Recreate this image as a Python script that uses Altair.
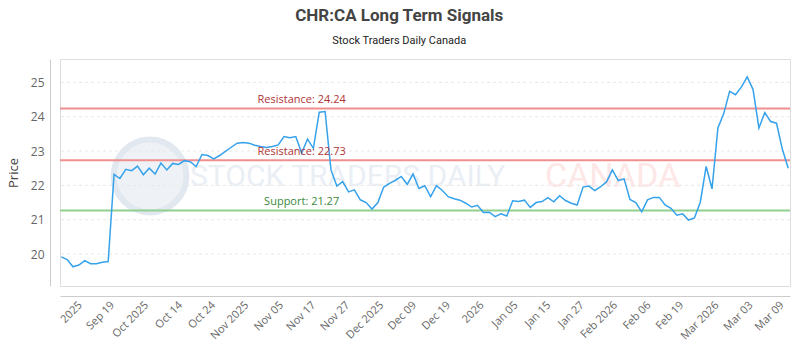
import altair as alt
import pandas as pd

# ---- data ----
prices = [
    19.92, 19.84, 19.63, 19.68, 19.81, 19.72, 19.72, 19.76, 19.78, 22.32,
    22.20, 22.47, 22.43, 22.56, 22.31, 22.50, 22.33, 22.65, 22.45, 22.64,
    22.61, 22.72, 22.69, 22.55, 22.90, 22.87,
    22.77, 22.87, 22.99, 23.11, 23.23, 23.25, 23.23, 23.17, 23.13, 23.10,
    23.13, 23.18, 23.42, 23.39, 23.42, 22.94, 23.35, 23.08, 24.13, 24.15,
    22.45, 21.98, 22.11, 21.81, 21.87,
    21.58, 21.50, 21.31, 21.50, 21.95, 22.06, 22.15, 22.26, 22.03, 22.33,
    21.91, 21.99, 21.67, 21.99, 21.85, 21.67, 21.61, 21.57, 21.48, 21.37,
    21.42, 21.21, 21.22, 21.09, 21.17,
    21.11, 21.55, 21.53, 21.57, 21.36, 21.50, 21.53, 21.64, 21.52, 21.70,
    21.56, 21.48, 21.43, 21.95, 21.98, 21.85, 21.96, 22.10, 22.45, 22.14,
    22.19, 21.59, 21.50, 21.23,
    21.58, 21.65, 21.65, 21.43, 21.33, 21.13, 21.17, 20.99, 21.05, 21.51,
    22.55, 21.90, 23.67, 24.09, 24.74, 24.64, 24.86, 25.16, 24.79, 23.67,
    24.12, 23.86, 23.81, 23.05, 22.50,
]

tick_labels = ["2025", "Sep 19", "Oct 2025", "Oct 14", "Oct 24", "Nov 2025",
               "Nov 05", "Nov 17", "Nov 27", "Dec 2025", "Dec 09", "Dec 19",
               "2026", "Jan 05", "Jan 15", "Jan 27", "Feb 2026", "Feb 06",
               "Feb 19", "Mar 2026", "Mar 03", "Mar 09"]
tick_pos = [2.5, 8.0, 13.8, 19.6, 25.2, 30.9, 36.8, 42.3, 48.1, 53.9, 59.5,
            65.3, 71.0, 76.8, 82.4, 88.1, 93.8, 99.5, 105.1, 111.1, 116.9, 122.2]

y_ticks = [20, 21, 22, 23, 24, 25]

level_names = ["Resistance", "Resistance", "Support"]
level_values = [24.24, 22.73, 21.27]
level_colors = ["#ef8f8f", "#ef8f8f", "#8fd08f"]
text_colors = ["#b03636", "#b03636", "#3a8a3a"]
label_at = 41

df = pd.DataFrame({"i": list(range(len(prices))), "price": prices})
levels = pd.DataFrame({
    "name": level_names, "value": level_values,
    "label": [f"{n}: {v:.2f}" for n, v in zip(level_names, level_values)],
    "color": level_colors, "tcolor": text_colors, "at": [label_at] * 3,
})
grid_df = pd.DataFrame({"v": y_ticks})

label_expr = "".join(f"datum.value == {p} ? '{l}' : " for p, l in zip(tick_pos, tick_labels)) + "''"

xscale = alt.Scale(domain=[-0.22, 124.3], nice=False, zero=False)
yscale = alt.Scale(domain=[19.07, 25.68], nice=False, zero=False)

FONT = "Open Sans"

x_axis = alt.Axis(values=tick_pos, labelExpr=label_expr, labelAngle=315,
                  labelAlign="right", labelBaseline="top", ticks=False,
                  grid=False, offset=10, domainColor="#cccccc", labelColor="#666666",
                  labelFont=FONT, labelFontSize=11, labelPadding=3, title=None,
                  labelOverlap=False, labelFlush=False)
y_axis = alt.Axis(values=y_ticks, ticks=False, grid=False, offset=10,
                  domainColor="#cccccc", labelColor="#666666", labelFont=FONT,
                  labelFontSize=12, labelPadding=6, title="Price",
                  titleFont=FONT, titleFontSize=13, titleFontWeight="normal",
                  titleColor="#444444", titlePadding=10)

# watermark (decorative), positions in plot-area pixels
wm_logo = alt.Chart(pd.DataFrame({"a": [0]})).mark_point(
    shape="circle", size=5300, filled=True, fill="#eef2f7", stroke="#e2e8f0",
    strokeWidth=6, opacity=1
).encode(x=alt.value(90), y=alt.value(117))
wm_text = alt.Chart(pd.DataFrame({"a": [0]})).mark_text(
    text="STOCK TRADERS DAILY", font="Roboto", fontSize=30,
    align="left", baseline="middle", color="#eaeff5"
).encode(x=alt.value(130), y=alt.value(118))
wm_text2 = alt.Chart(pd.DataFrame({"a": [0]})).mark_text(
    text="CANADA", font="Roboto", fontSize=34,
    align="left", baseline="middle", color="#fde7e7"
).encode(x=alt.value(485), y=alt.value(118))

grid = alt.Chart(grid_df).mark_rule(color="#e8e8e8", strokeDash=[3, 3], strokeWidth=1).encode(
    y=alt.Y("v:Q", scale=yscale, axis=y_axis)
)

lv_lines = alt.Chart(levels).mark_rule(strokeWidth=2).encode(
    y=alt.Y("value:Q", scale=yscale, axis=y_axis),
    color=alt.Color("color:N", scale=None),
)
lv_text = alt.Chart(levels).mark_text(
    font=FONT, fontSize=11, align="center", baseline="bottom", dy=-3
).encode(
    x=alt.X("at:Q", scale=xscale, axis=x_axis),
    y=alt.Y("value:Q", scale=yscale, axis=y_axis),
    text="label:N",
    color=alt.Color("tcolor:N", scale=None),
)

line = alt.Chart(df).mark_line(color="#36a2eb", strokeWidth=1.5).encode(
    x=alt.X("i:Q", scale=xscale, axis=x_axis),
    y=alt.Y("price:Q", scale=yscale, axis=y_axis),
)

chart = alt.layer(wm_logo, wm_text, wm_text2, grid, lv_lines, line, lv_text).properties(
    width=730, height=227,
    autosize=alt.AutoSizeParams(type="none"),
    padding={"left": 60, "top": 59, "right": 10, "bottom": 64},
    title=alt.TitleParams(
        text="CHR:CA Long Term Signals",
        subtitle="Stock Traders Daily Canada",
        anchor="middle", frame="bounds", font="Roboto", fontSize=17,
        fontWeight="bold", color="#444444", subtitleFont="Roboto",
        subtitleFontSize=11, subtitleColor="#222222", subtitlePadding=10, offset=12,
    ),
).configure_view(stroke="#888888", strokeWidth=1).configure(background="white")

chart.save("out.html", embed_options={"renderer": "svg", "actions": False})
